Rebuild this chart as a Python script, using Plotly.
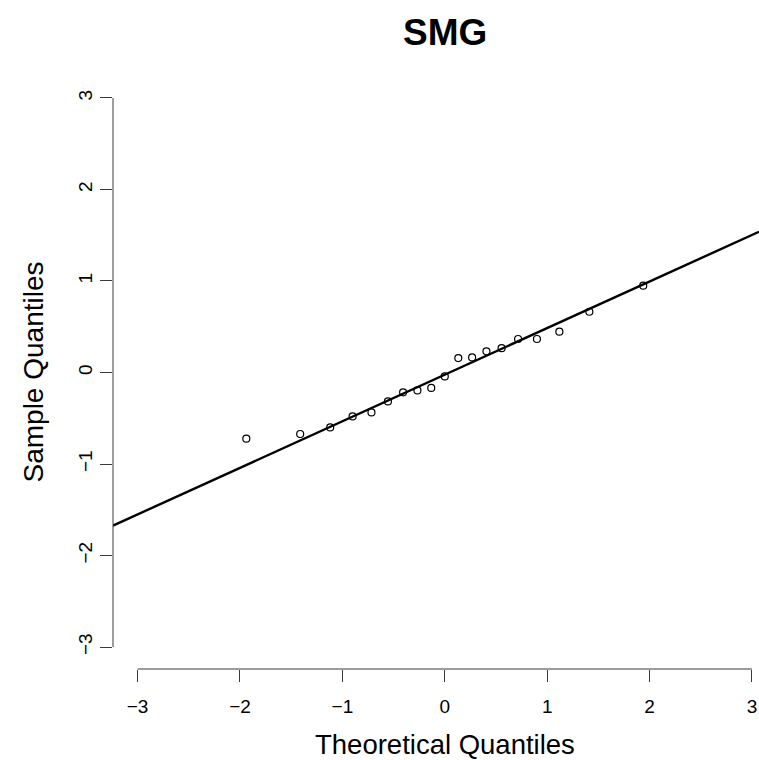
import plotly.graph_objects as go

# Data
theoretical = [-1.938, -1.412, -1.119, -0.900, -0.716, -0.555, -0.407, -0.267, -0.132, 0.0,
               0.132, 0.267, 0.407, 0.555, 0.716, 0.900, 1.119, 1.412, 1.938]
sample = [-0.723, -0.672, -0.600, -0.480, -0.436, -0.316, -0.217, -0.196, -0.169, -0.043,
          0.158, 0.165, 0.231, 0.266, 0.366, 0.366, 0.446, 0.664, 0.949]
line_slope = 0.509
line_intercept = -0.024
tick_vals = [-3, -2, -1, 0, 1, 2, 3]
title_text = "SMG"
x_title = "Theoretical Quantiles"
y_title = "Sample Quantiles"

W, H = 759, 760
L, T, B = 113, 76, 91
px_per_unit_x = 102.4
x_lo = -3.24
x_hi = x_lo + (W - L) / px_per_unit_x
y_lo, y_hi = -3.24, 3.24

font = "Liberation Sans, Arial, Helvetica, sans-serif"

fig = go.Figure()
line_x = [x_lo, x_hi]
line_y = [line_intercept + line_slope * v for v in line_x]
fig.add_trace(go.Scatter(x=line_x, y=line_y, mode="lines",
                         line=dict(color="black", width=2.4), hoverinfo="skip",
                         showlegend=False, cliponaxis=True))
fig.add_trace(go.Scatter(x=theoretical, y=sample, mode="markers",
                         marker=dict(symbol="circle-open", size=7, color="black",
                                     line=dict(width=1.2, color="black")),
                         showlegend=False))

axis_color = "#3a3a3a"
# R-style axis lines spanning only the tick range
fig.add_shape(type="line", xref="x", yref="paper", x0=tick_vals[0], x1=tick_vals[-1],
              y0=0, y1=0, line=dict(color=axis_color, width=1))
fig.add_shape(type="line", xref="paper", yref="y", x0=0, x1=0,
              y0=tick_vals[0], y1=tick_vals[-1], line=dict(color=axis_color, width=1))

plot_w = W - L
plot_h = H - T - B
center_px = (0 - x_lo) * px_per_unit_x  # pixel from plot left where x=0

def fmt(v):
    return ("\u2212" + str(-v)) if v < 0 else str(v)

fig.update_layout(
    width=W, height=H,
    margin=dict(l=L, r=0, t=T, b=B, pad=0),
    plot_bgcolor="white", paper_bgcolor="white",
    font=dict(family=font, color="black"),
    showlegend=False,
    xaxis=dict(range=[x_lo, x_hi], tickvals=tick_vals, ticktext=[fmt(v) for v in tick_vals],
               ticks="outside", ticklen=12, tickwidth=1, tickcolor=axis_color,
               showline=False, showgrid=False, zeroline=False,
               tickfont=dict(size=19, family=font), ticklabelstandoff=8),
    yaxis=dict(range=[y_lo, y_hi], tickvals=tick_vals, ticktext=[fmt(v) for v in tick_vals],
               ticks="outside", ticklen=12, tickwidth=1, tickcolor=axis_color,
               showline=False, showgrid=False, zeroline=False, tickangle=-90,
               tickfont=dict(size=19, family=font), ticklabelstandoff=0),
    annotations=[
        dict(text="<b>" + title_text + "</b>", xref="paper", yref="paper",
             x=center_px / plot_w, y=1 + (T - 33) / plot_h, xanchor="center", yanchor="middle",
             showarrow=False, font=dict(size=37, family=font)),
        dict(text=x_title, xref="paper", yref="paper", borderpad=0,
             x=center_px / plot_w, y=-(744 - (H - B)) / plot_h, xanchor="center", yanchor="middle",
             showarrow=False, font=dict(size=27.5, family=font)),
        dict(text=y_title, xref="paper", yref="paper", textangle=-90, borderpad=0,
             x=(33 - L) / plot_w, y=0.5, xanchor="center", yanchor="middle",
             showarrow=False, font=dict(size=28, family=font)),
    ],
)

fig.write_html("out.html")
